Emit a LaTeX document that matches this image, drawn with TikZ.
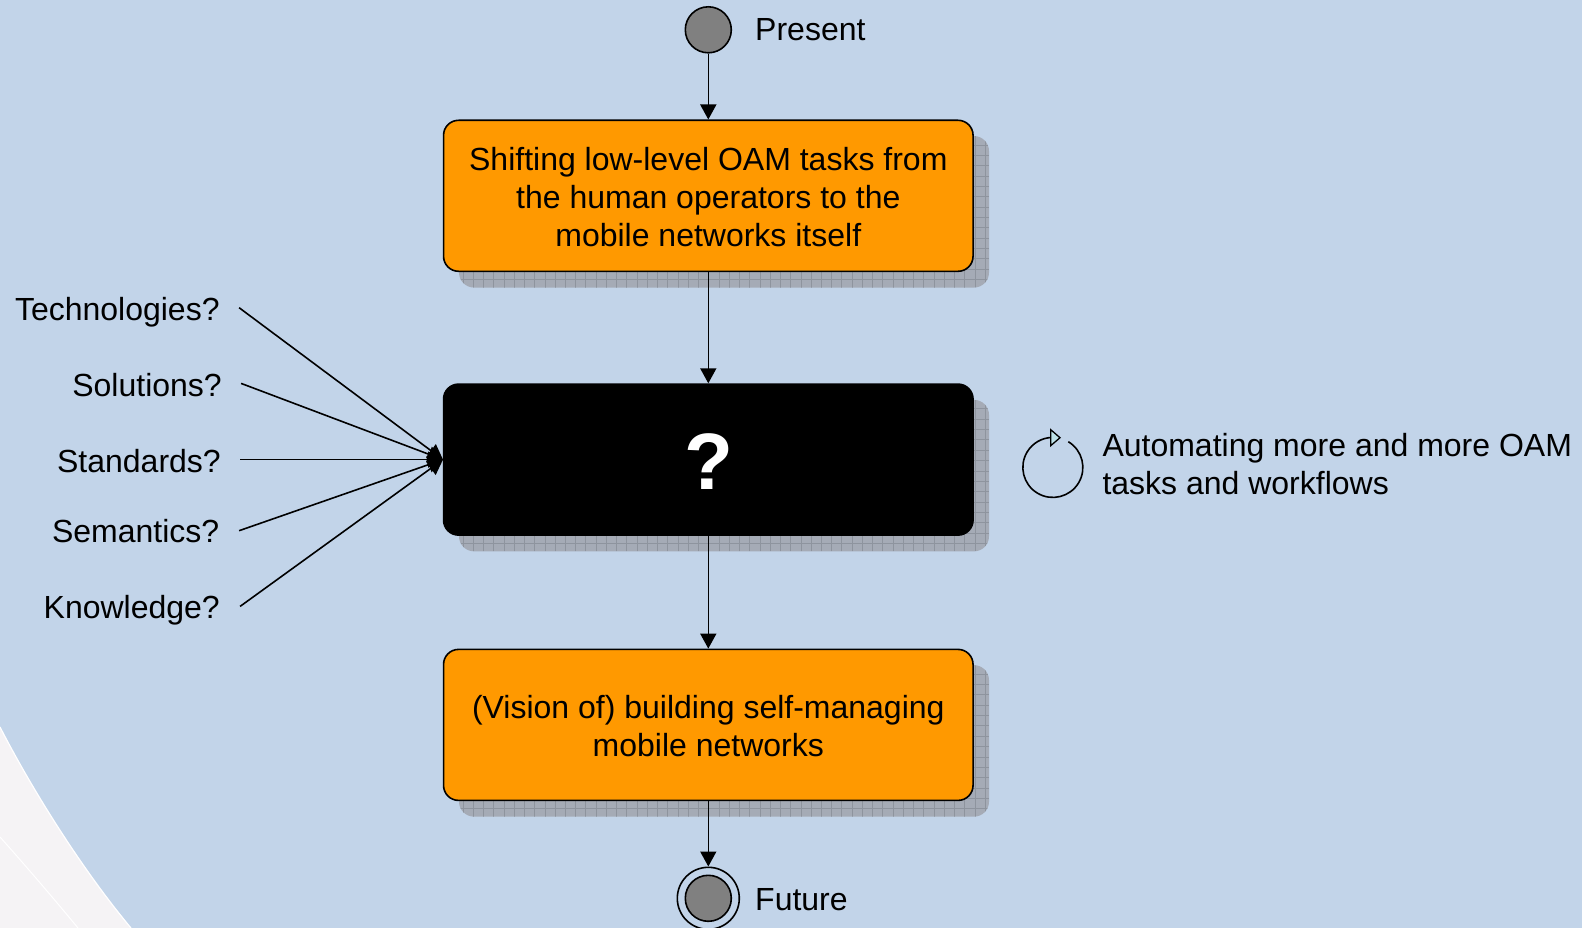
\documentclass[tikz,border=0pt]{standalone}
\usepackage{fontspec}
\setmainfont{Liberation Sans}
\usetikzlibrary{arrows.meta}
\definecolor{bgblue}{RGB}{194,212,233}
\definecolor{paleback}{RGB}{245,243,245}
\definecolor{boxorange}{RGB}{255,153,0}
\definecolor{dotgray}{RGB}{128,128,128}
\definecolor{shadowgray}{RGB}{165,171,182}
\definecolor{gridgray}{RGB}{142,148,158}
\definecolor{tipcyan}{RGB}{190,226,232}
\tikzset{x=1pt,y=-1pt,
 flow/.style={draw=black,line width=1.6pt,-{Triangle[length=15pt,width=16pt]}},
 task/.style={draw=black,line width=1.6pt,fill=boxorange,rounded corners=15pt,minimum width=529.5pt,minimum height=151pt,inner sep=0pt,align=center,font=\fontsize{32}{38.3}\selectfont},
 hole/.style={draw=black,line width=1.6pt,fill=black,rounded corners=15pt,minimum width=529.5pt,minimum height=151pt,inner sep=0pt},
 shade/.style={fill=shadowgray,rounded corners=15pt,minimum width=530pt,minimum height=151.5pt,inner sep=0pt,
  path picture={
   \foreach \i in {0,...,52}{\draw[gridgray,line width=0.8pt] ([xshift=\i*10.24pt+4pt]path picture bounding box.south west) -- ([xshift=\i*10.24pt+4pt]path picture bounding box.north west);}
   \foreach \i in {0,...,15}{\draw[gridgray,line width=0.8pt] ([yshift=\i*10.35pt+8pt]path picture bounding box.south west) -- ([yshift=\i*10.35pt+8pt]path picture bounding box.south east);}
  }},
 lbl/.style={font=\fontsize{32}{38.3}\selectfont,inner sep=0pt},
 state/.style={circle,draw=black,line width=1.6pt,fill=dotgray,minimum size=46pt,inner sep=0pt}}
\begin{document}
\begin{tikzpicture}
\useasboundingbox (0,0) rectangle (1582,928);
\fill[bgblue] (0,0) rectangle (1582,928);
\fill[paleback] (0,727) .. controls (35,795) and (85,873) .. (131,928) -- (0,928) -- cycle;
\draw[white,line width=1.2pt] (0,727) .. controls (35,795) and (85,873) .. (131,928);
\draw[white,line width=1pt] (0,837) .. controls (25,865) and (55,900) .. (78,928);
\node[shade] (s1) at (724,211.8) {};
\node[shade] (s2) at (724,475.6) {};
\node[shade] (s3) at (724,740.9) {};
\node[task] (t1) at (708.3,195.8) {\rule{0pt}{25.5pt}Shifting low-level OAM tasks from\\the human operators to the\\mobile networks itself};
\node[hole] (t2) at (708.3,459.6) {};
\node[font=\fontsize{80}{80}\selectfont\bfseries,text=white,inner sep=0pt] (q) at (709.3,462) {?};
\node[task] (t3) at (708.3,724.9) {\rule{0pt}{25.5pt}(Vision of) building self-managing\\mobile networks};
\node[state] (present) at (708.3,29.8) {};
\node[lbl,anchor=west] (pl) at (755,29.3) {Present};
\node[circle,draw=black,line width=1.6pt,minimum size=62pt,inner sep=0pt] (fo) at (708.3,898.3) {};
\node[state] (future) at (708.3,898.3) {};
\node[lbl,anchor=west] (fl) at (755,900) {Future};
\draw[flow] (present) -- (t1);
\draw[flow] (t1) -- (t2);
\draw[flow] (t2) -- (t3);
\draw[flow] (t3) -- (fo);
\node[lbl,anchor=base east] (a) at (219.8,320.8) {Technologies?};
\node[lbl,anchor=base east] (b) at (222,396.5) {Solutions?};
\node[lbl,anchor=base east] (c) at (221,472.2) {Standards?};
\node[lbl,anchor=base east] (d) at (219.5,542.8) {Semantics?};
\node[lbl,anchor=base east] (e) at (220,618.5) {Knowledge?};
\coordinate (hit) at (443,459.6);
\coordinate (a1) at (239.1,307.7);
\coordinate (b1) at (241.1,383.4);
\coordinate (c1) at (240.1,459.6);
\coordinate (d1) at (239.1,530.7);
\coordinate (e1) at (240.1,606.4);
\foreach \p in {a1,b1,c1,d1,e1}{\draw[flow] (\p) -- (hit);}
\draw[line width=1.6pt] (1068.3,441.7) arc[start angle=-59,end angle=268,radius=30];
\draw[line width=1.3pt,fill=tipcyan] (1050.7,429.7) -- (1060,437.7) -- (1050.7,445.7) -- cycle;
\node[lbl,anchor=west,align=left] (auto) at (1102.3,464) {Automating more and more OAM\\tasks and workflows};
\end{tikzpicture}
\end{document}
